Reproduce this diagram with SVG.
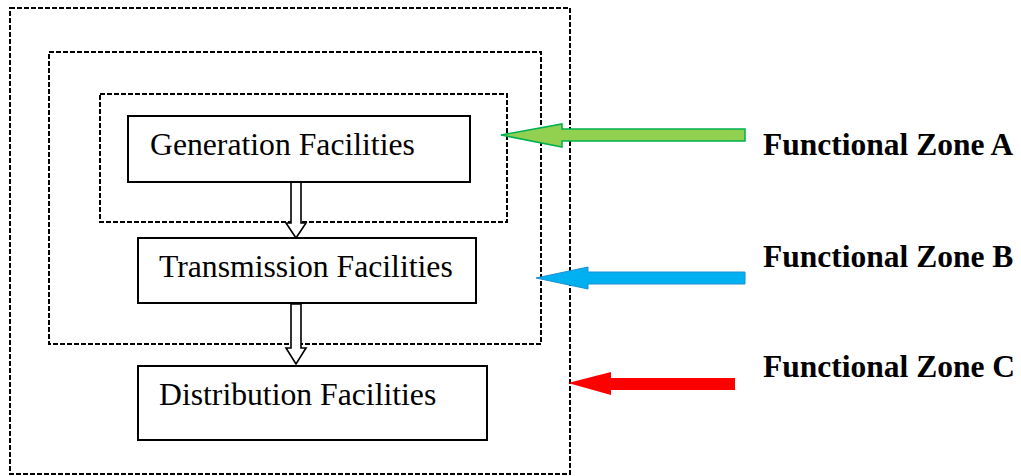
<svg xmlns="http://www.w3.org/2000/svg" width="1021" height="476" viewBox="0 0 1021 476">
  <style>
    .zone { fill: none; stroke: #000; stroke-width: 2; stroke-dasharray: 5 2; }
    .box { fill: #fff; stroke: #000; stroke-width: 2; }
    .label { font-family: "Liberation Serif", "Times New Roman", serif; font-size: 31.7px; fill: #000; }
    .zlabel { font-family: "Liberation Serif", "Times New Roman", serif; font-size: 31.5px; font-weight: bold; fill: #000; }
    .flow { fill: #fff; stroke: #000; stroke-width: 1.6; stroke-linejoin: miter; }
  </style>

  <!-- nested functional zone boundaries -->
  <g id="zone-c-boundary"><rect class="zone" x="10" y="8" width="560" height="466"/></g>
  <g id="zone-b-boundary"><rect class="zone" x="49" y="52" width="492" height="292"/></g>
  <g id="zone-a-boundary"><rect class="zone" x="100" y="94" width="407" height="128"/></g>

  <!-- connectors -->
  <g id="connectors">
    <path class="flow" d="M291,182 L301,182 L301,223 L306,223 L296,238 L286,223 L291,223 Z"/>
    <path class="flow" d="M291,304 L301,304 L301,348 L306,348 L296,364 L286,348 L291,348 Z"/>
    <!-- zone pointers -->
    <path d="M745,129 L562,129 L562,124 L501,135 L562,147 L562,141 L745,141 Z" fill="#92d050" stroke="#00b050" stroke-width="1.5"/>
    <path d="M745,272 L588,272 L588,267 L536,278 L588,289 L588,284 L745,284 Z" fill="#00b0f0" stroke="#1c8fd0" stroke-width="1"/>
    <path d="M735,378 L611,378 L611,372 L568,383 L611,395 L611,390 L735,390 Z" fill="#ff0000"/>
  </g>

  <g id="generation">
    <rect class="box" x="128" y="116" width="342" height="66"/>
    <text class="label" x="150" y="155">Generation Facilities</text>
  </g>
  <g id="transmission">
    <rect class="box" x="138" y="238" width="338" height="65"/>
    <text class="label" x="159" y="277">Transmission Facilities</text>
  </g>
  <g id="distribution">
    <rect class="box" x="138" y="366" width="349" height="74"/>
    <text class="label" x="159" y="405">Distribution Facilities</text>
  </g>

  <g id="zone-a-label"><text class="zlabel" x="763" y="155">Functional Zone A</text></g>
  <g id="zone-b-label"><text class="zlabel" x="763" y="267">Functional Zone B</text></g>
  <g id="zone-c-label"><text class="zlabel" x="763" y="377">Functional Zone C</text></g>
</svg>
